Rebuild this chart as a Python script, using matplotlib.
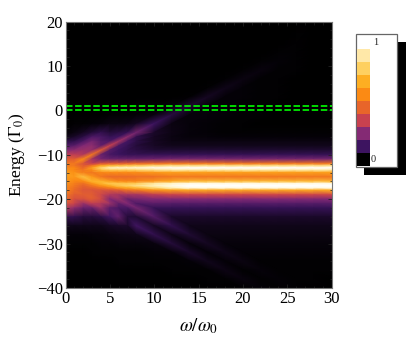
import numpy as np
import matplotlib
matplotlib.use("Agg")
import matplotlib.pyplot as plt
from matplotlib.colors import LinearSegmentedColormap, ListedColormap
from matplotlib.patches import Rectangle
from matplotlib.ticker import MultipleLocator
from matplotlib.tri import Triangulation

plt.rcParams['font.family'] = ['Liberation Serif', 'DejaVu Serif']
plt.rcParams['mathtext.fontset'] = 'stix'

omega = [0,1,2,3,4,5,6,7,8,10,12,14,16,18,20,22,24,26,28,30]
energy = [20,15,13,11,9,7,5,3,1,-1,-3,-5,-6,-7,-8,-9,-10,-11,-12,-12.5,-13,-13.5,-14,-15,-16,-16.5,-17,-17.5,-18,-19,-20,-21,-22,-24,-26,-28,-30,-32,-34,-36,-38,-40]
intensity = [
 [0,0,0,0,0,0,0,0,0,0,0,0,0,0,0,0,0,0,0,0],
 [0,0,0,0,0,0,0,0,0,0,0,0,0,0,0,0,.002,.004,.002,0],
 [0,0,0,0,0,0,0,0,0,0,0,0,0,0,0,.002,.004,.006,.003,.002],
 [0,0,0,0,0,0,0,0,0,0,0,0,0,0,.002,.004,.01,.004,.003,.002],
 [0,0,0,0,0,0,0,0,0,0,0,0,0,.002,.004,.016,.005,.004,.003,.002],
 [0,0,0,0,0,0,0,0,0,0,0,0,.002,.004,.022,.006,.005,.003,.002,.002],
 [0,0,0,0,0,0,0,0,0,0,0,.002,.005,.03,.008,.006,.004,.003,.002,.002],
 [0,0,0,0,0,0,0,0,0,0,.003,.006,.04,.01,.008,.005,.004,.003,.002,.002],
 [0,0,0,0,0,0,0,.002,.004,.006,.012,.055,.012,.01,.006,.004,.003,.002,.002,.002],
 [.001,.001,.002,.002,.003,.004,.005,.006,.008,.016,.075,.014,.012,.008,.005,.004,.003,.002,.002,.002],
 [.002,.004,.006,.01,.015,.02,.022,.024,.04,.11,.02,.015,.01,.006,.004,.003,.003,.003,.003,.003],
 [.01,.02,.04,.07,.09,.07,.08,.1,.2,.05,.025,.014,.01,.006,.005,.005,.005,.005,.005,.005],
 [.03,.05,.08,.14,.13,.1,.12,.24,.09,.04,.02,.015,.012,.01,.01,.01,.01,.01,.01,.01],
 [.08,.09,.14,.2,.15,.14,.28,.12,.08,.04,.025,.02,.02,.02,.02,.02,.02,.02,.02,.02],
 [.14,.16,.22,.24,.17,.34,.13,.1,.07,.045,.035,.035,.035,.035,.035,.035,.035,.035,.035,.035],
 [.22,.24,.26,.25,.42,.15,.11,.09,.08,.06,.06,.06,.06,.06,.06,.06,.06,.06,.06,.06],
 [.32,.32,.3,.5,.18,.13,.11,.1,.1,.1,.1,.1,.1,.1,.1,.1,.1,.1,.1,.1],
 [.42,.42,.56,.28,.2,.18,.18,.18,.18,.19,.2,.2,.2,.2,.2,.2,.2,.2,.2,.2],
 [.5,.5,.4,.33,.4,.42,.42,.44,.46,.48,.5,.5,.5,.5,.5,.5,.5,.5,.5,.5],
 [.52,.5,.42,.5,.65,.7,.72,.74,.76,.8,.82,.82,.82,.82,.82,.82,.82,.82,.82,.82],
 [.55,.55,.45,.62,.8,.88,.9,.9,.92,.96,.98,1,1,1,1,1,1,1,1,1],
 [.58,.55,.5,.55,.7,.75,.76,.76,.78,.82,.85,.85,.85,.85,.85,.85,.85,.85,.85,.85],
 [.62,.58,.52,.5,.55,.56,.56,.56,.57,.6,.62,.62,.62,.62,.62,.62,.62,.62,.62,.62],
 [.62,.6,.72,.6,.5,.46,.46,.46,.47,.48,.5,.5,.5,.5,.5,.5,.5,.5,.5,.5],
 [.6,.55,.55,.68,.68,.62,.56,.55,.55,.6,.66,.7,.7,.7,.7,.7,.7,.7,.7,.7],
 [.58,.52,.48,.58,.68,.74,.74,.74,.76,.85,.9,.95,.95,.95,.95,.95,.95,.95,.95,.95],
 [.56,.5,.44,.5,.58,.66,.74,.78,.82,.88,.95,1,1,1,1,1,1,1,1,1],
 [.55,.48,.42,.44,.48,.52,.6,.66,.7,.8,.88,.95,.95,.95,.95,.95,.95,.95,.95,.95],
 [.54,.46,.4,.4,.4,.4,.42,.48,.5,.58,.62,.65,.65,.65,.65,.65,.65,.65,.65,.65],
 [.5,.42,.42,.42,.36,.3,.28,.28,.28,.32,.34,.35,.35,.35,.35,.35,.35,.35,.35,.35],
 [.46,.38,.38,.42,.36,.22,.26,.18,.2,.22,.22,.22,.22,.22,.22,.22,.22,.22,.22,.22],
 [.4,.34,.26,.32,.3,.26,.17,.22,.14,.16,.15,.15,.15,.15,.15,.15,.15,.15,.15,.15],
 [.3,.24,.18,.18,.26,.16,.13,.13,.2,.1,.1,.1,.1,.1,.1,.1,.1,.1,.1,.1],
 [.09,.09,.07,.07,.08,.12,.17,.07,.06,.15,.05,.05,.05,.05,.05,.05,.05,.05,.05,.05],
 [.03,.03,.03,.03,.03,.04,.05,.05,.12,.04,.09,.03,.03,.03,.03,.03,.03,.03,.03,.03],
 [.01,.01,.01,.012,.015,.018,.02,.025,.03,.09,.025,.06,.02,.02,.02,.02,.02,.02,.02,.02],
 [.004,.004,.005,.006,.008,.01,.012,.012,.012,.018,.07,.015,.04,.012,.012,.012,.012,.012,.012,.012],
 [.002,.002,.003,.004,.004,.005,.006,.006,.006,.008,.01,.05,.01,.03,.008,.008,.008,.008,.008,.008],
 [.001,.001,.002,.002,.003,.003,.004,.004,.004,.005,.006,.008,.035,.008,.02,.006,.006,.006,.006,.006],
 [.001,.001,.001,.001,.002,.002,.002,.002,.003,.003,.004,.005,.006,.025,.006,.014,.005,.005,.004,.004],
 [0,0,.001,.001,.001,.001,.001,.002,.002,.002,.003,.003,.004,.005,.017,.005,.01,.004,.004,.003],
 [0,0,0,0,.001,.001,.001,.001,.001,.001,.002,.002,.003,.003,.004,.011,.004,.007,.003,.003],
]
level_lines = [1, 0]
legend_levels = [0,1,2,3,4,5,6,7,8]
palette = ['#000000','#3d1460','#842a74','#c8414f','#e8652a','#fb8a14','#fdae22','#fed060','#ffe8a8']

W, H = 415, 341
fig = plt.figure(figsize=(W/100, H/100), dpi=100)
ax = fig.add_axes([65.5/W, 1-288/H, 266/W, 266.5/H])
cmap = LinearSegmentedColormap.from_list('heat', palette[:-1] + ['#fff4c0', '#ffffff'])

# mesh cells are split along the direction of the faint diagonal features
nx, ny = len(omega), len(energy)
xx, yy = np.meshgrid(omega, energy)
tris = []
for j in range(ny - 1):
    for i in range(nx - 1):
        a, b = j*nx + i, j*nx + i + 1
        c, d = (j+1)*nx + i, (j+1)*nx + i + 1
        if energy[j] > -14:   # rising split (c-b)
            tris += [[a, b, c], [b, d, c]]
        else:                 # falling split (a-d)
            tris += [[a, b, d], [a, d, c]]
tri = Triangulation(xx.ravel(), yy.ravel(), tris)
ax.tripcolor(tri, np.array(intensity).ravel(), shading='gouraud', cmap=cmap, vmin=0, vmax=1, rasterized=True)

for e in level_lines:
    ax.plot([0, 30], [e, e], color='#00ff00', lw=1.2, dashes=(3.9, 1.56))
ax.set_xlim(0, 30)
ax.set_ylim(-40, 20)
ax.xaxis.set_major_locator(MultipleLocator(5))
ax.xaxis.set_minor_locator(MultipleLocator(1))
ax.yaxis.set_minor_locator(MultipleLocator(2))
ax.tick_params(which='major', direction='in', length=3.2, width=0.6, top=True, right=True, color='#222222', labelsize=12, pad=2)
ax.tick_params(which='minor', direction='in', length=1.8, width=0.5, top=True, right=True, color='#222222')
for s in ax.spines.values():
    s.set_color('#777777')
    s.set_linewidth(0.8)
ax.set_xlabel(r'$\omega/\omega_0$', fontsize=13.5, labelpad=7)
ax.set_ylabel(r'Energy ($\Gamma_0$)', fontsize=12.5, labelpad=7)
ax.set_yticks([-40,-30,-20,-10,0,10,20])
ax.set_yticklabels(['\u221240','\u221230','\u221220','\u221210','0','10','20'])

# legend box with drop shadow
fig.add_artist(Rectangle((364/W, 1-175/H), 41.5/W, 133/H, transform=fig.transFigure, fc='black', ec='none'))
fig.add_artist(Rectangle((355.5/W, 1-167/H), 41.5/W, 133/H, transform=fig.transFigure, fc='white', ec='#666666', lw=0.9))
cax = fig.add_axes([357/W, 1-165.7/H, 13/W, 116.7/H])
cax.set_zorder(5)
cax.imshow(np.array(legend_levels)[:, None], origin='lower', aspect='auto', cmap=ListedColormap(palette), interpolation='nearest')
cax.axis('off')
fig.text(376/W, 1-42.5/H, '1', ha='center', va='center', fontsize=7.5, color='#222222', zorder=6)
fig.text(373.5/W, 1-159.5/H, '0', ha='center', va='center', fontsize=7.5, color='#222222', zorder=6)

fig.savefig('out.png', dpi=100)
